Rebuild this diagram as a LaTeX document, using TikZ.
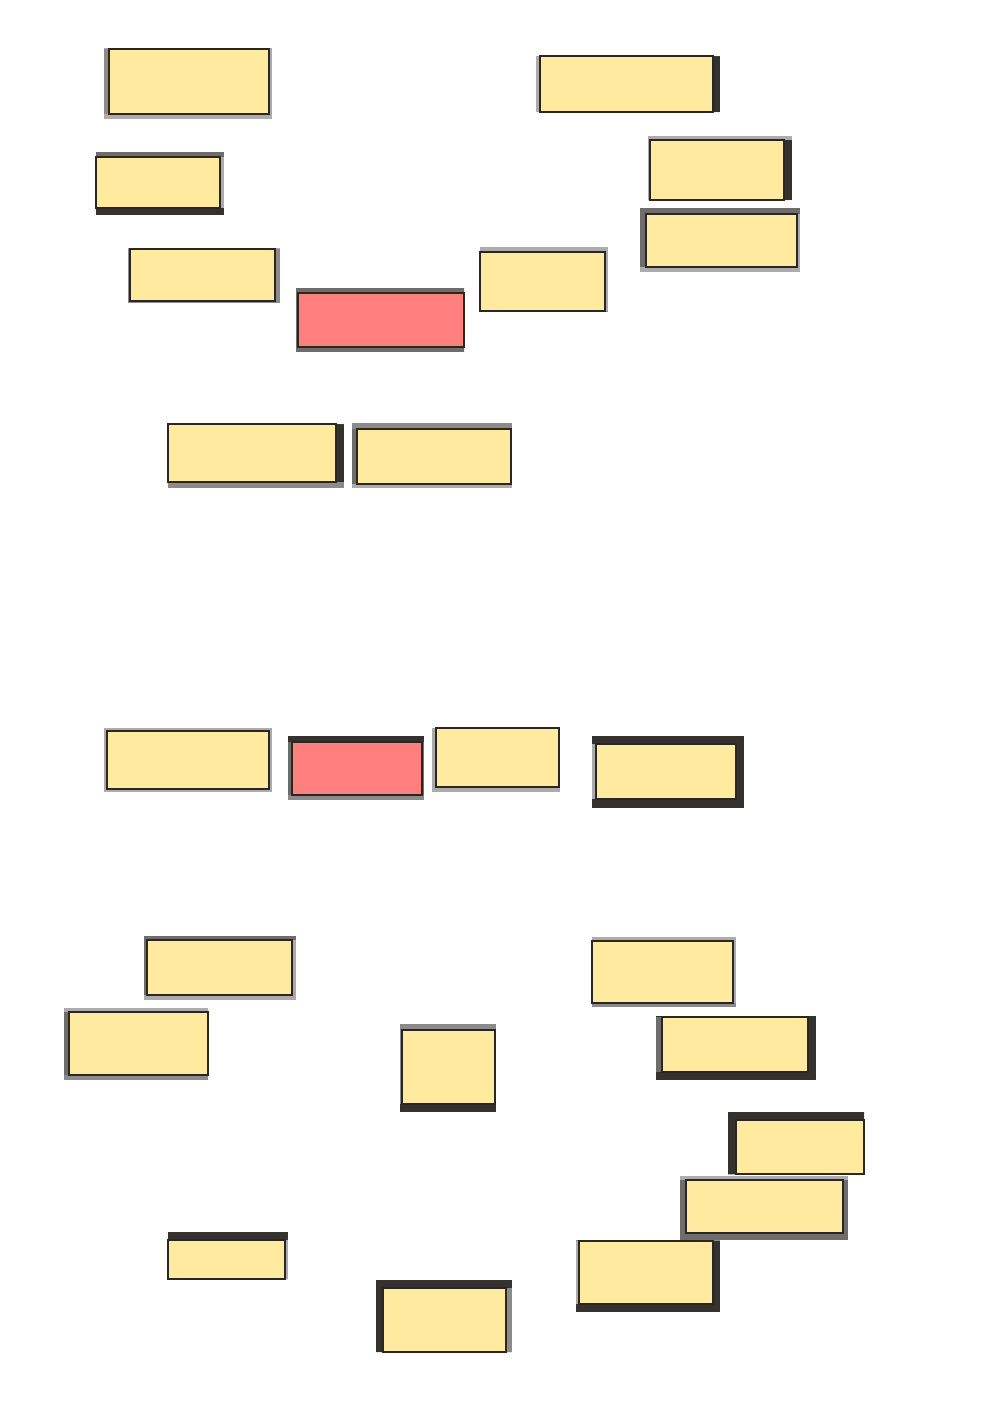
\documentclass[tikz,border=0pt]{standalone}
\usepackage{tikz}
\definecolor{bandD}{HTML}{35312E}
\definecolor{bandM}{HTML}{6F6C6C}
\definecolor{bandG}{HTML}{8C8A8A}
\definecolor{bandL}{HTML}{ADABAB}
\definecolor{yel}{HTML}{FFEA9F}
\definecolor{rd}{HTML}{FF7F7F}
\definecolor{edgec}{HTML}{2A2620}
\tikzset{
  box/.style={draw=edgec, line width=1.2pt, inner sep=0pt, outer sep=0pt, anchor=north west},
}
\def\splitw#1,#2,#3,#4\relax{\def\bwl{#1}\def\bwt{#2}\def\bwr{#3}\def\bwb{#4}}
\def\splitc#1,#2,#3,#4\relax{\def\bcl{#1}\def\bct{#2}\def\bcr{#3}\def\bcb{#4}}
\newcommand\bx[8]{%
  \splitw#7\relax\splitc#8\relax
  \fill[fill=\bcl] (#3,#4) rectangle (#3+\bwl,#6);
  \fill[fill=\bcr] (#5-\bwr,#4) rectangle (#5,#6);
  \fill[fill=\bct] (#3,#4) rectangle (#5,#4+\bwt);
  \fill[fill=\bcb] (#3,#6-\bwb) rectangle (#5,#6);
  \pgfmathsetmacro\bxw{#5-\bwr-#3-\bwl}%
  \pgfmathsetmacro\bxh{#6-\bwb-#4-\bwt}%
  \node[box, fill=#2, minimum width=\bxw pt, minimum height=\bxh pt] (#1) at (#3+\bwl,#4+\bwt) {};
}
\begin{document}
\begin{tikzpicture}[x=1pt,y=-1pt]
\fill[white] (0,0) rectangle (999,1418);
\useasboundingbox (0,0) rectangle (999,1418);
\bx{b1}{yel}{104}{48}{272}{119}{5,1,3,5}{bandG,bandL,bandL,bandL}
\bx{b2}{yel}{96}{152}{224}{215}{0,5,4,7}{bandL,bandM,bandL,bandD}
\bx{b3}{yel}{536}{56}{720}{112}{4,0,7,0}{bandL,bandL,bandD,bandL}
\bx{b4}{yel}{648}{136}{792}{200}{2,4,8,0}{bandL,bandL,bandD,bandL}
\bx{b5}{yel}{640}{208}{800}{272}{6,6,3,5}{bandM,bandM,bandL,bandL}
\bx{b6}{yel}{128}{248}{280}{303}{2,1,5,2}{bandG,bandL,bandG,bandG}
\bx{b7}{rd}{296}{288}{464}{352}{2,5,0,5}{bandM,bandM,bandM,bandM}
\bx{b8}{yel}{480}{247}{608}{312}{0,5,3,1}{bandL,bandL,bandL,bandG}
\bx{b9}{yel}{168}{424}{344}{488}{0,0,8,6}{bandG,bandG,bandD,bandG}
\bx{b10}{yel}{352}{423}{512}{488}{5,6,1,4}{bandM,bandG,bandL,bandL}
\bx{b11}{yel}{104}{728}{272}{792}{3,3,3,3}{bandL,bandL,bandL,bandL}
\bx{b12}{rd}{288}{736}{424}{800}{4,6,2,5}{bandM,bandD,bandM,bandG}
\bx{b13}{yel}{432}{728}{560}{792}{4,0,1,5}{bandL,bandL,bandL,bandL}
\bx{b14}{yel}{592}{736}{744}{808}{4,8,8,9}{bandL,bandD,bandD,bandD}
\bx{b15}{yel}{144}{936}{296}{1000}{3,4,4,5}{bandM,bandM,bandL,bandL}
\bx{b16}{yel}{592}{937}{736}{1007}{0,4,3,4}{bandL,bandL,bandL,bandG}
\bx{b17}{yel}{64}{1008}{208}{1080}{5,4,0,5}{bandM,bandL,bandL,bandG}
\bx{b18}{yel}{400}{1024}{496}{1112}{2,6,1,8}{bandG,bandG,bandL,bandD}
\bx{b19}{yel}{656}{1016}{816}{1080}{6,1,8,8}{bandM,bandD,bandD,bandD}
\bx{b20}{yel}{728}{1112}{864}{1175}{8,8,0,1}{bandD,bandD,bandD,bandL}
\bx{b21}{yel}{680}{1176}{848}{1240}{6,4,5,7}{bandM,bandL,bandM,bandM}
\bx{b22}{yel}{168}{1232}{288}{1279}{0,8,3,0}{bandD,bandD,bandL,bandD}
\bx{b23}{yel}{576}{1240}{720}{1312}{3,1,7,8}{bandL,bandG,bandD,bandD}
\bx{b24}{yel}{376}{1280}{512}{1352}{7,8,6,0}{bandD,bandD,bandG,bandD}
\end{tikzpicture}
\end{document}
